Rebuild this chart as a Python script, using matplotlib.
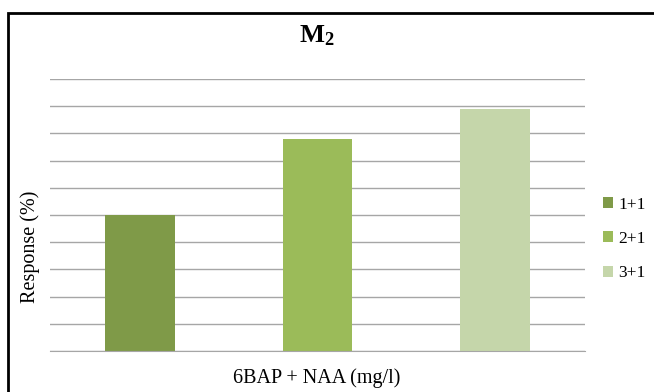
import matplotlib
matplotlib.use("Agg")
import matplotlib.pyplot as plt
from matplotlib.patches import Rectangle

plt.rcParams['font.family'] = ['Liberation Serif', 'DejaVu Serif']
plt.rcParams['mathtext.fontset'] = 'custom'
plt.rcParams['mathtext.rm'] = 'Liberation Serif'
plt.rcParams['mathtext.bf'] = 'Liberation Serif:bold'

# 処理区ごとの反応率
labels = ['1+1', '2+1', '3+1']
response = [50, 78, 89]
colors = ['#7f9a48', '#9bbb59', '#c5d6aa']

fig = plt.figure(figsize=(6.54, 3.92), dpi=100)
W, H = 654, 392
ax = fig.add_axes([50 / W, 1 - 351 / H, 535 / W, 272 / H])

for i, (lab, val, c) in enumerate(zip(labels, response, colors)):
    ax.bar(i, val, width=0.394, color=c, label=lab, zorder=3)

ax.set_xlim(-0.507, 2.507)
ax.set_ylim(0, 100)
ax.set_yticks(range(0, 101, 10))
ax.yaxis.grid(True, color='#a6a6a6', linewidth=1.0, zorder=0)
ax.tick_params(left=False, bottom=False, labelleft=False, labelbottom=False)
for side in ['top', 'right', 'left']:
    ax.spines[side].set_visible(False)
ax.spines['bottom'].set_color('#a6a6a6')
ax.spines['bottom'].set_zorder(4)

fig.text(317 / W, 1 - 36 / H, r'$\mathbf{M_2}$', ha='center', va='center', fontsize=19)
fig.text(317 / W, 1 - 378 / H, '6BAP + NAA (mg/l)', ha='center', va='center', fontsize=14.5)
fig.text(30 / W, 1 - 247 / H, 'Response (%)', ha='center', va='center',
         rotation=90, fontsize=14.5)

leg = ax.legend(loc='center left', bbox_to_anchor=(603 / W, 1 - 239 / H),
                bbox_transform=fig.transFigure, frameon=False, fontsize=12.5,
                handlelength=0.6, handleheight=0.6, handletextpad=0.3,
                labelspacing=1.05, borderpad=0, borderaxespad=0)

# 外枠
fig.patches.append(Rectangle((8 / W, -0.1), 1.2, 1 - 13 / H + 0.1,
                             transform=fig.transFigure, fill=False,
                             edgecolor='black', linewidth=2))

fig.savefig('out.png', dpi=100)
